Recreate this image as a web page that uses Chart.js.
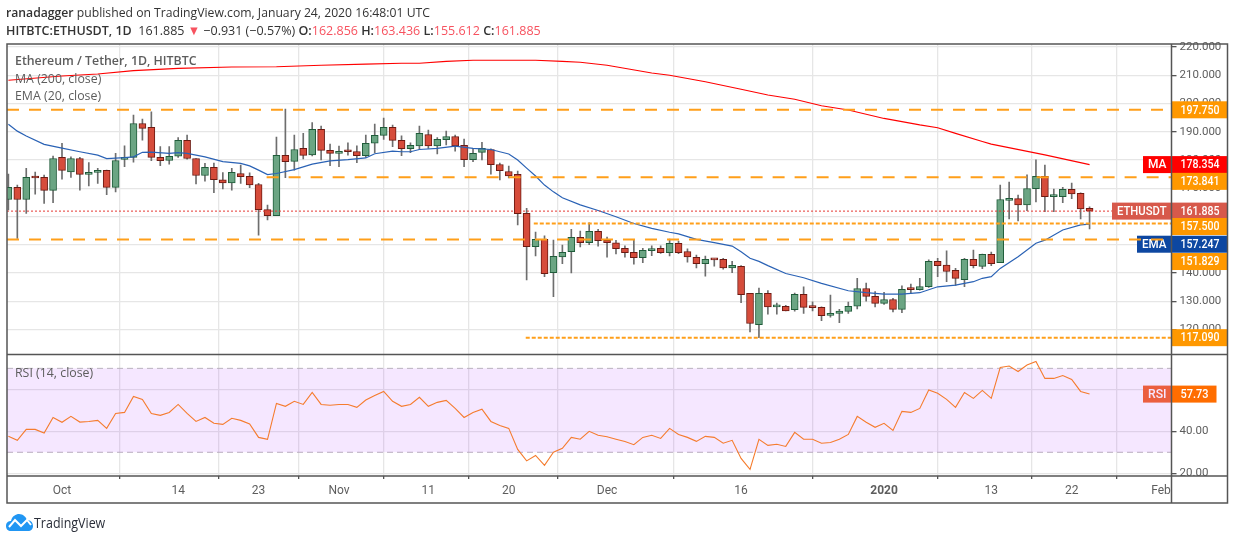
<!DOCTYPE html>
<html>
<head>
<meta charset="utf-8">
<title>ETHUSDT</title>
<script src="https://cdn.jsdelivr.net/npm/chart.js@4"></script>
<style>
  body { margin: 0; background: #fff; }
  #wrap { position: relative; width: 1234px; height: 540px; overflow: hidden; font-family: "Open Sans", sans-serif; }
  canvas { position: absolute; left: 0; top: 0; }
  .t { position: absolute; white-space: nowrap; color: #333; transform-origin: left top; }
  .lg { font-size: 13px; color: #5d5d5d; left: 15px; transform: scaleX(0.95); }
  b { font-weight: 600; }
  .r { color: #f7525f; }
</style>
</head>
<body>
<div id="wrap">
  <canvas id="c" width="1234" height="540"></canvas>
  <div class="t" style="left:6px;top:3px;font-size:13px;transform:scaleX(0.938)"><b>ranadagger</b> published on TradingView.com, January 24, 2020 16:48:01 UTC</div>
  <div class="t" style="left:6px;top:21px;font-size:13px;transform:scaleX(0.962)"><b>HITBTC:ETHUSDT, 1D</b>&nbsp; 161.885 <span class="r">&#9660;</span> &minus;0.931 (&minus;0.57%) <b>O:</b><span class="r">162.856</span> <b>H:</b><span class="r">163.436</span> <b>L:</b><span class="r">155.612</span> <b>C:</b><span class="r">161.885</span></div>
  <div class="t lg" style="top:51px;font-weight:600">Ethereum / Tether, 1D, HITBTC</div>
  <div class="t lg" style="top:69px">MA (200, close)</div>
  <div class="t lg" style="top:86px">EMA (20, close)</div>
  <div class="t lg" style="top:363px">RSI (14, close)</div>
  <svg style="position:absolute;left:6px;top:513px" width="27" height="18" viewBox="0 0 27 18">
    <path d="M0 13 C0 9 3 8 5 8 C6 3 10 1 13 1 C17 1 20 4 21 7 C24 7 27 9 27 13 C27 16 25 18 22 18 L5 18 C2 18 0 16 0 13 Z" fill="#2196f3"/>
    <path d="M3 14 L9 7 L15 13 L21 7 L25 12" fill="none" stroke="#fff" stroke-width="2"/>
  </svg>
  <div class="t" style="left:34px;top:513px;font-size:14px;color:#2a2e39;transform:scaleX(0.89)">TradingView</div>
</div>
<script>
// x values are days counted from 1 Oct 2019, first candle is 25 Sep
const firstDay = -6
const opens = [
  166.0,170.3,166.0,173.8,173.8,169.2,180.9,175.8,180.5,174.9,
  175.6,176.3,170.3,180.2,180.9,192.9,191.5,180.9,179.8,181.3,
  186.9,180.5,174.5,177.4,173.0,171.9,175.2,174.2,171.3,162.4,
  160.3,181.6,179.5,184.1,181.8,190.8,183.4,182.3,183.4,183.0,
  181.5,185.9,188.7,191.5,186.9,184.0,185.0,189.0,185.0,187.2,
  188.3,185.2,180.1,182.7,183.7,178.4,175.9,174.9,161.1,149.3,
  151.9,140.1,145.7,147.5,152.6,150.7,154.7,151.5,150.7,148.7,
  147.3,145.4,147.9,148.7,147.2,150.5,147.6,145.5,143.3,144.8,
  144.8,141.8,142.3,132.8,121.7,132.8,128.0,128.2,127.0,132.4,
  127.9,127.8,125.0,125.7,126.4,128.2,134.5,131.7,129.2,130.6,
  127.1,134.4,134.1,135.1,144.1,142.8,140.9,137.6,144.8,142.3,
  146.6,143.6,165.7,166.3,164.1,169.8,174.2,167.0,167.0,169.6,
  168.2,162.856]
const highs = [
  175.0,171.1,177.0,175.7,174.6,181.4,185.9,181.1,180.9,179.1,
  177.0,176.4,182.3,185.0,195.9,194.5,197.0,184.7,184.7,187.9,
  188.8,180.5,178.8,178.9,175.5,177.0,178.2,175.4,171.7,164.0,
  188.1,198.0,188.8,189.4,193.2,192.0,185.6,184.9,186.1,185.0,
  188.8,192.7,194.8,192.3,188.5,186.1,192.0,190.6,187.9,190.2,
  188.8,187.4,184.1,186.2,183.9,178.9,177.8,176.1,162.9,154.5,
  153.1,151.6,149.9,155.4,154.8,157.7,155.4,152.7,151.5,149.6,
  151.9,148.7,149.6,149.6,152.0,151.3,148.5,146.3,146.0,145.0,
  145.2,144.1,142.6,132.8,134.6,133.8,129.3,128.5,132.9,135.1,
  129.8,128.0,132.2,127.1,129.7,138.1,136.4,133.4,133.1,131.0,
  135.4,136.1,138.1,144.6,145.2,147.8,141.6,145.2,148.1,146.7,
  147.4,171.1,172.2,167.6,174.7,180.0,178.2,169.7,170.3,171.8,
  168.4,163.436]
const lows = [
  162.3,152.2,161.1,167.9,164.6,164.9,173.2,173.8,169.3,170.8,
  171.7,167.7,168.7,177.6,179.2,187.0,179.7,178.0,178.5,180.9,
  180.3,171.5,172.5,168.4,169.7,169.3,171.7,170.2,153.4,158.8,
  160.3,173.7,176.4,180.4,181.4,180.0,178.0,177.6,181.7,179.0,
  180.9,182.6,187.3,184.7,181.5,182.6,183.7,184.1,182.1,185.3,
  183.1,177.6,179.4,180.0,175.0,172.9,173.6,157.0,137.5,146.0,
  138.7,131.6,143.3,140.0,149.2,150.0,149.5,145.6,146.7,145.6,
  143.1,143.6,146.1,146.9,146.0,146.8,143.8,141.8,138.9,142.4,
  141.3,140.1,129.5,119.1,117.1,125.4,125.4,126.6,126.5,125.7,
  126.6,123.1,124.3,122.4,125.7,127.3,130.0,128.0,128.9,126.2,
  125.9,132.8,133.9,134.9,138.7,136.9,135.6,135.1,141.8,141.5,
  142.6,143.6,159.1,158.4,162.0,165.1,161.7,161.7,164.9,166.3,
  159.1,155.612]
const closes = [
  170.3,166.0,173.8,173.6,169.2,180.5,176.3,180.5,174.9,175.6,
  176.3,170.3,179.8,180.9,192.9,191.2,180.9,179.7,181.3,186.9,
  180.5,174.5,177.4,173.0,171.9,175.6,174.1,171.2,162.4,160.3,
  181.6,179.4,183.7,181.6,190.8,183.4,182.3,183.0,182.9,181.5,
  185.9,188.7,191.5,186.9,184.0,185.2,189.4,185.0,187.3,188.3,
  185.0,180.1,182.3,184.1,178.3,176.2,174.3,161.0,149.3,151.9,
  139.7,145.9,147.3,152.6,150.7,154.7,151.4,150.7,148.6,147.2,
  145.4,148.0,148.3,147.2,150.5,147.2,145.7,143.3,144.8,144.6,
  141.8,142.7,132.3,122.1,132.8,128.0,128.3,126.6,132.4,127.8,
  127.7,124.9,125.7,126.5,128.2,134.5,131.7,129.2,130.6,127.1,
  134.2,134.1,135.2,144.1,142.6,140.5,138.1,144.8,142.6,146.6,
  143.3,166.0,166.4,164.1,169.9,174.2,167.0,167.2,169.6,168.0,
  162.7,161.885]
const rsi = [
  37.6,35.7,40.9,40.9,39.2,46.6,44.3,47.1,44.4,44.7,
  45.2,41.4,48.5,49.0,56.6,55.2,48.5,47.6,49.0,52.8,
  48.5,44.7,46.6,43.8,43.3,46.2,45.2,43.5,37.1,36.2,
  53.3,51.9,54.3,52.8,58.5,52.8,52.4,52.8,52.8,51.4,
  54.9,57.1,59.0,54.3,51.9,52.8,56.2,51.9,53.8,54.7,
  50.9,46.6,49.0,50.5,44.7,42.8,41.4,31.4,25.9,28.5,
  23.8,30.0,31.9,37.1,36.2,40.0,38.1,37.4,36.2,35.1,
  33.6,37.1,38.1,36.6,41.4,38.5,37.1,35.2,37.6,37.1,
  34.3,35.7,27.1,21.9,36.2,33.3,33.8,32.8,39.5,36.2,
  36.2,34.3,34.7,36.2,38.5,47.1,44.3,41.9,43.8,40.4,
  49.5,49.0,50.9,59.7,58.1,55.2,51.4,58.5,55.7,59.5,
  55.7,70.4,71.1,68.5,71.6,73.3,65.2,65.2,66.6,64.7,
  59.0,57.73]

const maDays = [-6,0,4,8,13,19,24,29,34,38,40,43,46,53,56,58,61,66,68,72,76,79,82,85,88,92,96,98,100,103,104,110,115]
const maValues = [208.2,209.7,210.4,211.6,212.4,212.9,213.0,213.5,213.9,214.2,214.2,214.9,215.3,215.3,214.9,214.6,213.5,210.8,210.0,207.7,205.0,203.0,201.5,199.2,197.7,194.7,192.4,191.4,189.4,186.5,185.6,181.8,178.354]
const emaDays = [-6,-5,-4,-2,0,2,4,5,7,8,9,10,12,13,14,16,18,20,21,22,23,24,26,28,30,32,34,35,37,38,39,40,42,44,46,48,50,51,52,53,54,55,56,58,60,62,64,66,68,69,71,73,75,76,77,78,79,81,83,85,88,90,92,94,96,98,100,102,103,104,105,107,109,110,112,114,115]
const emaValues = [192.6,190.2,188.5,185.5,184.2,182.9,181.7,180.5,180.8,181.1,182.7,182.8,182.3,182.6,182.3,181.1,179.4,178.8,177.9,176.4,174.8,175.2,176.6,178.5,179.7,180.1,180.7,182.2,183.1,182.9,182.9,183.7,184.1,184.9,184.1,183.7,182.1,180.0,177.1,174.3,171.1,168.7,166.6,164.1,162.1,159.9,157.5,155.8,154.4,153.8,151.9,150.7,149.5,147.5,145.2,144.1,142.6,139.8,138.3,136.3,133.7,133.0,132.5,132.5,133.0,135.1,135.7,136.9,138.1,138.7,141.6,145.7,150.5,151.6,155.2,157.0,157.247]

const tickDays = [0,13,22,31,41,50,61,76,92,104,113,123]
const tickLabels = ['Oct','14','23','Nov','11','20','Dec','16','2020','13','22','Feb']
const priceTicks = [120,130,140,150,160,170,180,190,200,210,220]
const rsiTicks = [20,40,60]

const xMin = -6.155, xMax = 124.17
const days = opens.map((_, i) => firstDay + i)
const tickFont = 'Roboto, sans-serif'

const lvl = (from, to, v, color, dash, w) => ({
  type: 'line', yAxisID: 'y', order: 1, pointRadius: 0, borderColor: color, borderWidth: w, borderDash: dash,
  data: [{x: from, y: v}, {x: to, y: v}]
})
const isUp = i => closes[i] >= opens[i]

// tags on the price axis, shift is how far the box got pushed off its real price
const tags = [
  {axis: 'y', v: 197.75, txt: '197.750', bg: '#ff9800', shift: 0},
  {axis: 'y', v: 178.354, txt: '178.354', bg: '#ff0000', name: 'MA', nameX: 1143, shift: 0},
  {axis: 'y', v: 173.841, txt: '173.841', bg: '#ff9800', shift: 4},
  {axis: 'y', v: 161.885, txt: '161.885', bg: '#d7594b', name: 'ETHUSDT', nameX: 1112, shift: 0},
  {axis: 'y', v: 157.5, txt: '157.500', bg: '#ff9800', shift: 3},
  {axis: 'y', v: 157.247, txt: '157.247', bg: '#0d47a1', name: 'EMA', nameX: 1137, shift: 20},
  {axis: 'y', v: 151.829, txt: '151.829', bg: '#ff9800', shift: 22},
  {axis: 'y', v: 117.09, txt: '117.090', bg: '#ff9800', shift: 0},
  {axis: 'yRsi', v: 57.73, txt: '57.73', bg: '#ff6d00', name: 'RSI', nameX: 1143, nameBg: '#f4682a', width: 45, shift: 0}
]

const tagPlugin = {
  id: 'tags',
  beforeDatasetsDraw(chart) {
    const ctx = chart.ctx, right = chart.chartArea.right
    ctx.save()
    ctx.font = '500 13px ' + tickFont
    ctx.textBaseline = 'middle'
    tags.forEach(t => {
      const y = chart.scales[t.axis].getPixelForValue(t.v) + t.shift
      if (t.name) {
        ctx.fillStyle = t.nameBg || t.bg
        ctx.fillRect(t.nameX, y - 8.5, right - t.nameX, 17)
        ctx.fillStyle = '#fff'
        ctx.textAlign = 'center'
        ctx.fillText(t.name, (t.nameX + right) / 2, y + 0.5, right - t.nameX - 10)
      }
      ctx.fillStyle = t.bg
      ctx.fillRect(right, y - 8.5, t.width || 56, 17)
      ctx.fillStyle = '#fff'
      ctx.textAlign = 'left'
      ctx.fillText(t.txt, right + 9, y + 0.5, t.width ? 28 : 39)
    })
    ctx.restore()
  }
}

const framePlugin = {
  id: 'frame',
  afterDraw(chart) {
    const ctx = chart.ctx, a = chart.chartArea, outer = 1227.5, split = chart.scales.y.bottom
    ctx.save()
    ctx.strokeStyle = '#555'
    ctx.lineWidth = 1.5
    ctx.strokeRect(a.left, a.top, outer - a.left, chart.scales.x.bottom - a.top)
    ctx.beginPath()
    ctx.moveTo(a.right, a.top); ctx.lineTo(a.right, chart.scales.x.bottom)
    ctx.moveTo(a.left, split); ctx.lineTo(outer, split)
    ctx.moveTo(a.left, a.bottom); ctx.lineTo(outer, a.bottom)
    ctx.stroke()
    ctx.restore()
  }
}

new Chart(document.getElementById('c').getContext('2d'), {
  type: 'bar',
  data: {
    datasets: [
      // rsi band first so it stays under the rsi line
      {type: 'line', yAxisID: 'yRsi', order: 9, pointRadius: 0, borderColor: '#b9b2bd', borderWidth: 1, borderDash: [6, 4],
        backgroundColor: 'rgba(153,21,255,0.1)', fill: {value: 30},
        data: [{x: xMin, y: 70}, {x: xMax, y: 70}]},
      {type: 'line', yAxisID: 'yRsi', order: 9, pointRadius: 0, borderColor: '#b9b2bd', borderWidth: 1, borderDash: [6, 4],
        data: [{x: xMin, y: 30}, {x: xMax, y: 30}]},
      {type: 'line', yAxisID: 'yRsi', order: 2, pointRadius: 0, borderColor: '#f57c2e', borderWidth: 1.1, tension: 0,
        data: rsi.map((v, i) => ({x: days[i], y: v}))},
      // candles
      {yAxisID: 'y', order: 8, grouped: false, barThickness: 1, backgroundColor: '#6e6e6e',
        data: days.map((d, i) => ({x: d, y: [lows[i], highs[i]]}))},
      {yAxisID: 'y', order: 7, grouped: false, barThickness: 7, minBarLength: 2, borderWidth: 1, borderSkipped: false,
        backgroundColor: days.map((d, i) => isUp(i) ? '#6ba583' : '#d64c3b'),
        borderColor: days.map((d, i) => isUp(i) ? '#1f5c3a' : '#6d1a12'),
        data: days.map((d, i) => ({x: d, y: [opens[i], closes[i]]}))},
      // moving averages
      {type: 'line', yAxisID: 'y', order: 3, pointRadius: 0, borderColor: '#ff0000', borderWidth: 1.1,
        data: maValues.map((v, i) => ({x: maDays[i], y: v}))},
      {type: 'line', yAxisID: 'y', order: 3, pointRadius: 0, borderColor: '#2a62b5', borderWidth: 1.2,
        data: emaValues.map((v, i) => ({x: emaDays[i], y: v}))},
      // levels
      lvl(xMin, 117.5, 161.885, '#e53935', [2, 2], 1),
      lvl(xMin, xMax, 197.75, '#ff9f1a', [12, 10], 2),
      lvl(xMin, xMax, 151.829, '#ff9f1a', [12, 10], 2),
      lvl(22.9, xMax, 173.841, '#ff9f1a', [12, 10], 2),
      lvl(52.8, xMax, 157.5, '#ff9f1a', [4, 2], 2),
      lvl(51.9, xMax, 117.09, '#ff9f1a', [4, 2], 2)
    ]
  },
  options: {
    responsive: false,
    animation: false,
    events: [],
    layout: {padding: {left: 7, top: 44, right: 0, bottom: 37}},
    plugins: {legend: {display: false}, tooltip: {enabled: false}},
    scales: {
      x: {
        type: 'linear', min: xMin, max: xMax, offset: false,
        afterBuildTicks: s => { s.ticks = tickDays.map(v => ({value: v})) },
        afterFit: s => { s.height = 27 },
        grid: {color: '#e6e6e6', lineWidth: 1.3, tickColor: '#555', tickLength: 3},
        border: {display: false},
        ticks: {
          autoSkip: false, maxRotation: 0, padding: 5, color: '#5d5d5d',
          font: c => ({family: tickFont, size: 12, weight: c.tick && c.tick.value === 92 ? 'bold' : 'normal'}),
          callback: v => tickLabels[tickDays.indexOf(v)]
        }
      },
      y: {
        position: 'right', stack: 'panes', stackWeight: 310.5, weight: 1,
        min: 111.13, max: 221.04,
        afterBuildTicks: s => { s.ticks = priceTicks.map(v => ({value: v})) },
        afterFit: s => { s.width = 62.5 },
        grid: {color: '#e6e6e6', lineWidth: 1.3, tickColor: '#555', tickLength: 5},
        border: {display: false},
        ticks: {autoSkip: false, padding: 3, color: '#5d5d5d',
          font: {family: tickFont, size: 11.5}, callback: v => v.toFixed(3)}
      },
      yRsi: {
        position: 'right', stack: 'panes', stackWeight: 121.5, weight: 2,
        min: 18.7, max: 76.6,
        afterBuildTicks: s => { s.ticks = rsiTicks.map(v => ({value: v})) },
        afterFit: s => { s.width = 62.5 },
        grid: {color: '#e6e6e6', lineWidth: 1.3, tickColor: '#555', tickLength: 5},
        border: {display: false},
        // the 60 label sits behind the rsi tag in the original, so no text for it
        ticks: {autoSkip: false, padding: 3, color: '#5d5d5d',
          font: {family: tickFont, size: 11.5}, callback: v => v === 60 ? '' : v.toFixed(2)}
      }
    }
  },
  plugins: [tagPlugin, framePlugin]
})
</script>
</body>
</html>
